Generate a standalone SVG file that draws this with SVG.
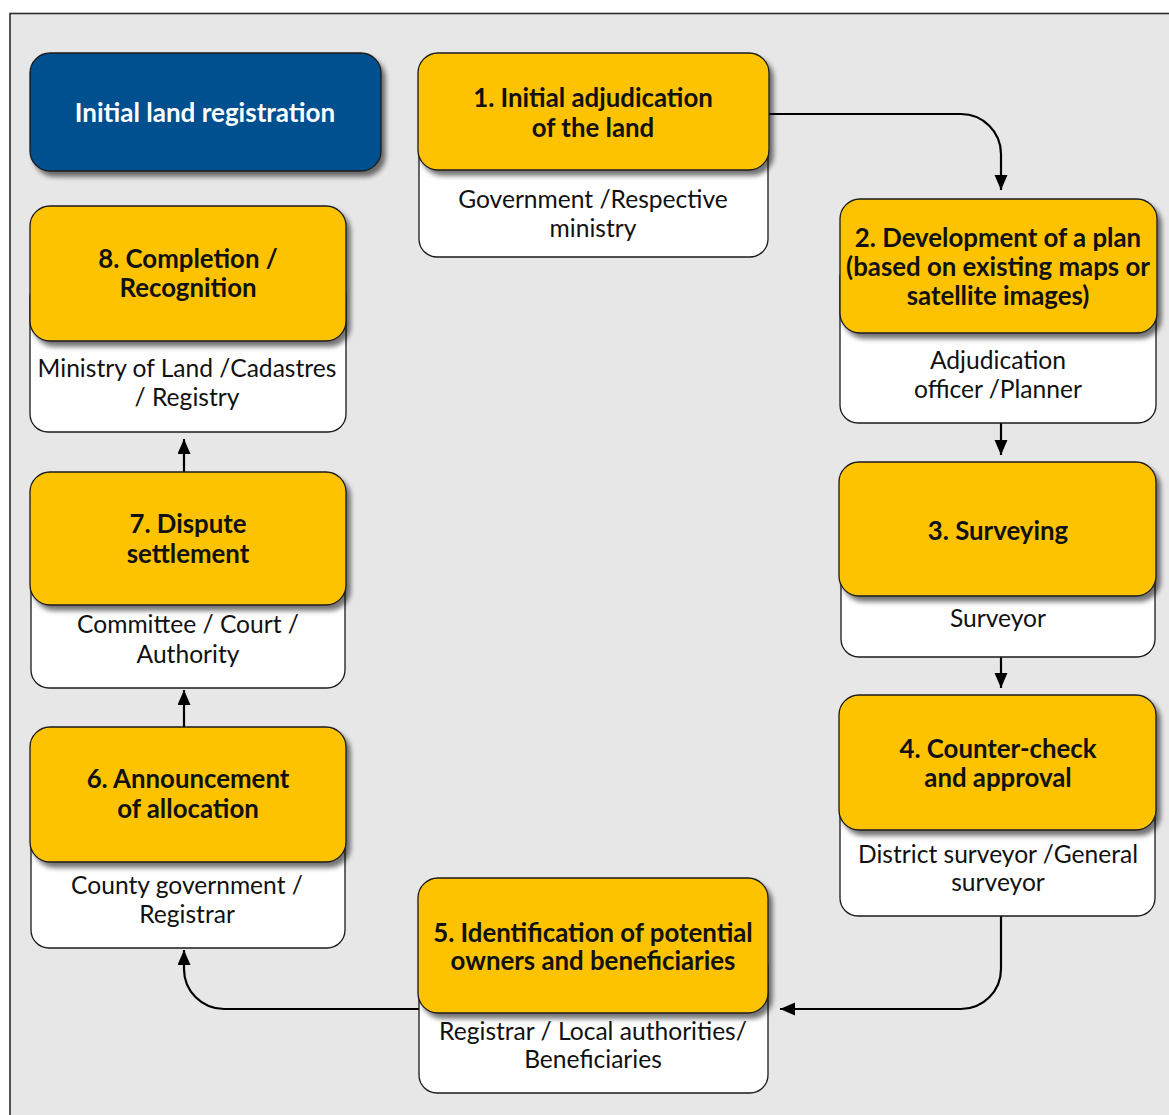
<svg xmlns="http://www.w3.org/2000/svg" width="1169" height="1115" viewBox="0 0 1169 1115">
  <style>
    .frame { fill: #E7E7E7; stroke: #2B2B2B; stroke-width: 1.6; }
    .step { fill: #FDC300; stroke: #1A1A1A; stroke-width: 1.3; filter: url(#shadow); }
    .who { fill: #FFFFFF; stroke: #1A1A1A; stroke-width: 1.3; }
    .title { fill: #00508F; stroke: #1A1A1A; stroke-width: 1.3; filter: url(#shadow); }
    .head { font-family: Lato, "Open Sans", sans-serif; font-weight: bold; font-size: 25.8px; fill: #111111; text-anchor: middle; }
    .body { font-family: Lato, "Open Sans", sans-serif; font-size: 24.6px; fill: #111111; text-anchor: middle; }
    .titletext { font-family: Lato, "Open Sans", sans-serif; font-weight: bold; font-size: 26px; fill: #FFFFFF; text-anchor: middle; }
    .link { fill: none; stroke: #000000; stroke-width: 2.2; marker-end: url(#arrow); }
  </style>
  <defs>
    <filter id="shadow" x="-10%" y="-10%" width="130%" height="130%">
      <feGaussianBlur in="SourceAlpha" stdDeviation="2.5"/>
      <feOffset dx="4" dy="5" result="blur"/>
      <feComponentTransfer><feFuncA type="linear" slope="0.55"/></feComponentTransfer>
      <feMerge><feMergeNode/><feMergeNode in="SourceGraphic"/></feMerge>
    </filter>
    <marker id="arrow" markerUnits="userSpaceOnUse" markerWidth="16" markerHeight="14" refX="15" refY="6.5" orient="auto">
      <path d="M0,0 L15,6.5 L0,13 Z" fill="#000000"/>
    </marker>
  </defs>

  <!-- background panel -->
  <rect class="frame" x="10" y="13.5" width="1180" height="1120"/>

  <!-- connectors -->
  <g id="connectors">
    <path class="link" d="M769,114 H961 A40,40 0 0 1 1001,154 V190"/>
    <path class="link" d="M1001,423 V455"/>
    <path class="link" d="M1001,657 V688"/>
    <path class="link" d="M1001,916 V969 A40,40 0 0 1 961,1009 H780"/>
    <path class="link" d="M419,1009 H224 A40,40 0 0 1 184,969 V950"/>
    <path class="link" d="M184,727 V690"/>
    <path class="link" d="M184,472 V439"/>
  </g>

  <!-- header -->
  <g id="title">
    <rect class="title" x="30" y="53" width="351" height="118" rx="20"/>
    <text class="titletext" x="205" y="122">Initial land registration</text>
  </g>

  <!-- step 1 -->
  <g id="step1">
    <rect class="who" x="419" y="120" width="349" height="137" rx="18"/>
    <rect class="step" x="418" y="53" width="351" height="117" rx="20"/>
    <text class="head" x="593" y="107">1. Initial adjudication</text>
    <text class="head" x="593" y="137">of the land</text>
    <text class="body" x="593" y="208">Government /Respective</text>
    <text class="body" x="593" y="237">ministry</text>
  </g>

  <!-- step 2 -->
  <g id="step2">
    <rect class="who" x="840" y="260" width="316" height="163" rx="18"/>
    <rect class="step" x="840" y="199" width="317" height="134" rx="20"/>
    <text class="head" x="998" y="247">2. Development of a plan</text>
    <text class="head" x="998" y="276">(based on existing maps or</text>
    <text class="head" x="998" y="305">satellite images)</text>
    <text class="body" x="998" y="369">Adjudication</text>
    <text class="body" x="998" y="398">officer /Planner</text>
  </g>

  <!-- step 3 -->
  <g id="step3">
    <rect class="who" x="841" y="520" width="314" height="137" rx="18"/>
    <rect class="step" x="839" y="462" width="317" height="134" rx="20"/>
    <text class="head" x="998" y="540">3. Surveying</text>
    <text class="body" x="998" y="627">Surveyor</text>
  </g>

  <!-- step 4 -->
  <g id="step4">
    <rect class="who" x="840" y="760" width="315" height="156" rx="18"/>
    <rect class="step" x="839" y="695" width="317" height="135" rx="20"/>
    <text class="head" x="998" y="758">4. Counter-check</text>
    <text class="head" x="998" y="787">and approval</text>
    <text class="body" x="998" y="863">District surveyor /General</text>
    <text class="body" x="998" y="891">surveyor</text>
  </g>

  <!-- step 5 -->
  <g id="step5">
    <rect class="who" x="419" y="950" width="349" height="143" rx="18"/>
    <rect class="step" x="418" y="878" width="350" height="135" rx="20"/>
    <text class="head" x="593" y="942">5. Identification of potential</text>
    <text class="head" x="593" y="970">owners and beneficiaries</text>
    <text class="body" x="593" y="1040">Registrar / Local authorities/</text>
    <text class="body" x="593" y="1068">Beneficiaries</text>
  </g>

  <!-- step 6 -->
  <g id="step6">
    <rect class="who" x="31" y="800" width="314" height="148" rx="18"/>
    <rect class="step" x="30" y="727" width="316" height="135" rx="20"/>
    <text class="head" x="188" y="788">6. Announcement</text>
    <text class="head" x="188" y="818">of allocation</text>
    <text class="body" x="187" y="894">County government /</text>
    <text class="body" x="187" y="923">Registrar</text>
  </g>

  <!-- step 7 -->
  <g id="step7">
    <rect class="who" x="31" y="540" width="314" height="148" rx="18"/>
    <rect class="step" x="30" y="472" width="316" height="133" rx="20"/>
    <text class="head" x="188" y="533">7. Dispute</text>
    <text class="head" x="188" y="563">settlement</text>
    <text class="body" x="188" y="633">Committee / Court /</text>
    <text class="body" x="188" y="663">Authority</text>
  </g>

  <!-- step 8 -->
  <g id="step8">
    <rect class="who" x="30" y="280" width="316" height="152" rx="18"/>
    <rect class="step" x="30" y="206" width="316" height="135" rx="20"/>
    <text class="head" x="188" y="268">8. Completion /</text>
    <text class="head" x="188" y="297">Recognition</text>
    <text class="body" x="187" y="377">Ministry of Land /Cadastres</text>
    <text class="body" x="187" y="406">/ Registry</text>
  </g>
</svg>
